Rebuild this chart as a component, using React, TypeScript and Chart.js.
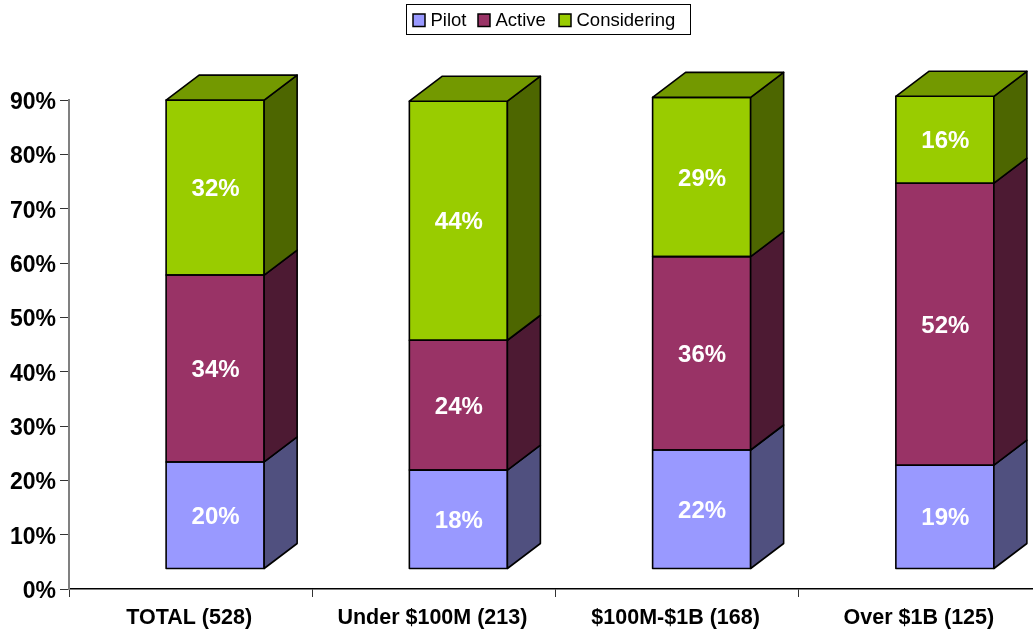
import React, { useEffect, useRef } from "react";
import { Chart, registerables } from "chart.js";

Chart.register(...registerables);

const categories = ["TOTAL (528)", "Under $100M (213)", "$100M-$1B (168)", "Over $1B (125)"];
const pilot = [19.7, 18.2, 21.9, 19.1];
const active = [34.4, 23.9, 35.6, 51.9];
const considering = [32.2, 44.0, 29.3, 16.0];
const yTicksMax = 90;

const FRONT_SHIFT_X = 24.5;
const FRONT_SHIFT_Y = 20;
const DEPTH_X = 33;
const DEPTH_Y = 25;
const FONT = '"Liberation Sans", Arial, sans-serif';

const shades: Record<string, { side: string; top: string }> = {
  Pilot: { side: "#50507F", top: "#7A7ACC" },
  Active: { side: "#4D1A33", top: "#7A2952" },
  Considering: { side: "#4D6600", top: "#739900" },
};

function poly(ctx: CanvasRenderingContext2D, pts: number[][], fill: string | null) {
  ctx.beginPath();
  pts.forEach((p, i) => (i ? ctx.lineTo(p[0], p[1]) : ctx.moveTo(p[0], p[1])));
  ctx.closePath();
  if (fill) {
    ctx.fillStyle = fill;
    ctx.fill();
  }
  ctx.lineWidth = 1.6;
  ctx.strokeStyle = "#000";
  ctx.lineJoin = "round";
  ctx.stroke();
}

const bars3d = {
  id: "bars3d",
  beforeDatasetsDraw(chart: any) {
    chart.ctx.save();
    chart.ctx.translate(FRONT_SHIFT_X, -FRONT_SHIFT_Y);
  },
  afterDatasetsDraw(chart: any) {
    const ctx = chart.ctx as CanvasRenderingContext2D;
    const last = chart.data.datasets.length - 1;
    chart.data.datasets.forEach((ds: any, di: number) => {
      const shade = shades[ds.label];
      chart.getDatasetMeta(di).data.forEach((bar: any) => {
        const r = bar.x + bar.width / 2;
        const l = bar.x - bar.width / 2;
        poly(ctx, [[l, bar.base], [r, bar.base], [r, bar.y], [l, bar.y]], null);
        poly(ctx, [[r, bar.base], [r + DEPTH_X, bar.base - DEPTH_Y], [r + DEPTH_X, bar.y - DEPTH_Y], [r, bar.y]], shade.side);
        if (di === last) {
          poly(ctx, [[l, bar.y], [l + DEPTH_X, bar.y - DEPTH_Y], [r + DEPTH_X, bar.y - DEPTH_Y], [r, bar.y]], shade.top);
        }
      });
    });
    ctx.fillStyle = "#fff";
    ctx.font = `bold 24px ${FONT}`;
    ctx.textAlign = "center";
    ctx.textBaseline = "middle";
    chart.data.datasets.forEach((ds: any, di: number) => {
      chart.getDatasetMeta(di).data.forEach((bar: any, i: number) => {
        ctx.fillText(`${Math.round(ds.data[i])}%`, bar.x + 0.5, (bar.y + bar.base) / 2 + 2);
      });
    });
    ctx.restore();
  },
};

const legendBox = {
  id: "legendBox",
  afterDraw(chart: any) {
    const ctx = chart.ctx as CanvasRenderingContext2D;
    ctx.save();
    ctx.fillStyle = "#fff";
    ctx.fillRect(406, 4, 284.5, 30.5);
    ctx.strokeStyle = "#000";
    ctx.lineWidth = 1;
    ctx.strokeRect(406.5, 4.5, 284, 30);
    const swatchX = [413, 478, 559];
    ctx.font = `18.5px ${FONT}`;
    ctx.textBaseline = "middle";
    ctx.textAlign = "left";
    chart.data.datasets.forEach((ds: any, i: number) => {
      ctx.fillStyle = ds.backgroundColor;
      ctx.fillRect(swatchX[i], 14, 12, 12.5);
      ctx.strokeStyle = "#000";
      ctx.lineWidth = 1.5;
      ctx.strokeRect(swatchX[i], 14, 12, 12.5);
      ctx.fillStyle = "#000";
      ctx.fillText(ds.label, swatchX[i] + 17.5, 21);
    });
    ctx.restore();
  },
};

export default function App() {
  const ref = useRef<HTMLCanvasElement>(null);
  useEffect(() => {
    const common = { borderWidth: 0, clip: false as any, barPercentage: 0.403, categoryPercentage: 1 };
    const chart = new Chart(ref.current!, {
      type: "bar",
      data: {
        labels: categories,
        datasets: [
          { label: "Pilot", data: pilot, backgroundColor: "#9999FF", ...common },
          { label: "Active", data: active, backgroundColor: "#993366", ...common },
          { label: "Considering", data: considering, backgroundColor: "#99CC00", ...common },
        ],
      },
      options: {
        responsive: false,
        animation: false,
        layout: { padding: { top: 100, left: 0, right: 0, bottom: 0 } },
        plugins: { legend: { display: false }, tooltip: { enabled: false }, title: { display: false } },
        scales: {
          x: {
            stacked: true,
            afterFit: (s: any) => { s.height = 41; },
            border: { color: "#000", width: 1.5 },
            grid: { drawOnChartArea: false, offset: true, tickLength: 8, color: "#333", lineWidth: 1 },
            ticks: { color: "#000", font: { family: FONT, size: 21.5, weight: "bold" }, padding: 8, labelOffset: -1.5, maxRotation: 0, autoSkip: false },
          },
          y: {
            stacked: true,
            min: 0,
            max: yTicksMax,
            afterFit: (s: any) => { s.width = 69; },
            border: { color: "#808080", width: 2 },
            grid: { drawOnChartArea: false, tickLength: 9, color: "#333", lineWidth: 1 },
            ticks: { stepSize: 10, color: "#000", padding: 4, labelOffset: 2.5, font: { family: FONT, size: 23, weight: "bold" }, callback: (v: any) => `${v}%` },
          },
        },
      },
      plugins: [bars3d, legendBox],
    });
    return () => chart.destroy();
  }, []);
  return (
    <div style={{ position: "fixed", left: 0, top: 0, width: 1033, height: 630, overflow: "hidden", background: "#fff" }}>
      <canvas ref={ref} width={1042} height={630} style={{ display: "block" }} />
    </div>
  );
}
